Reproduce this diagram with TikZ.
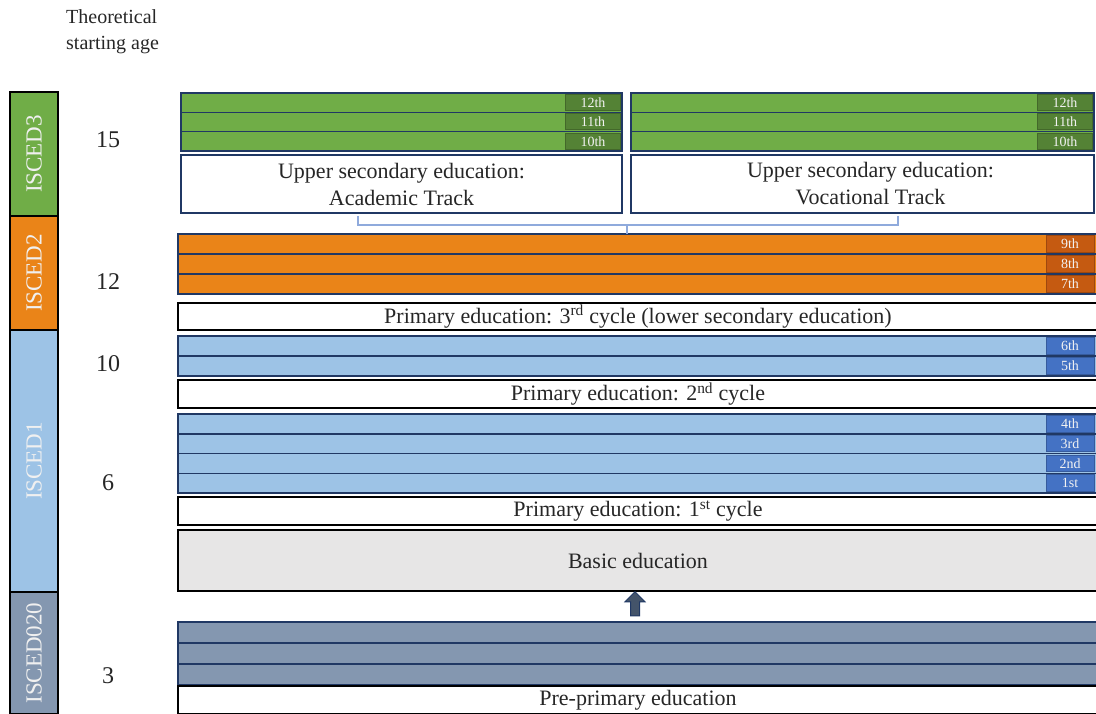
\documentclass[tikz,border=0pt]{standalone}
\usepackage{fontspec}
\setmainfont{Liberation Serif}
\usetikzlibrary{positioning,shapes.arrows}
\definecolor{navy}{HTML}{203864}
\definecolor{grn}{HTML}{70AD47}
\definecolor{dkgrn}{HTML}{548235}
\definecolor{orng}{HTML}{EA8418}
\definecolor{dkorng}{HTML}{C55A11}
\definecolor{ltblue}{HTML}{9DC3E6}
\definecolor{mdblue}{HTML}{4472C4}
\definecolor{slate}{HTML}{8497B0}
\definecolor{basicgray}{HTML}{E7E6E6}
\definecolor{bracecol}{HTML}{8FAADC}
\definecolor{arrowgray}{HTML}{44546A}
\definecolor{ink}{HTML}{262626}
\tikzset{
  basic/.style    = {rectangle, inner sep=0pt, outer sep=0pt, line width=1.5pt},
  isced/.style    = {basic, draw=black, rotate=90, minimum height=48pt,
                     text=white!94!black, font=\fontsize{23}{26}\selectfont},
  band/.style     = {basic, draw=navy, anchor=north west},
  gradetag/.style = {basic, anchor=east, line width=1pt, text=white!95!black,
                     font=\fontsize{14}{15}\selectfont},
  cyclebox/.style = {basic, draw=black, fill=white, anchor=north west, text=ink,
                     align=center, font=\fontsize{22}{27}\selectfont},
  age/.style      = {text=ink, font=\fontsize{24}{28}\selectfont}
}

\begin{document}
\begin{tikzpicture}[x=1pt,y=-1pt]
\useasboundingbox (0,0) rectangle (1096,713);

% age column
\node[anchor=north west, align=left, inner sep=0pt, text=ink,
      font=\fontsize{20}{26}\selectfont] (head) at (66,9) {Theoretical\\starting age};
\node[age] (a15) at (108,140) {15};
\node[age] (a12) at (108,282) {12};
\node[age] (a10) at (108,364) {10};
\node[age] (a6)  at (108,483) {6};
\node[age] (a3)  at (108,676) {3};

% ISCED levels
\node[isced, fill=grn,    minimum width=124pt] (l3)  at (34,154) {ISCED3};
\node[isced, fill=orng,   minimum width=114pt] (l2)  at (34,273) {ISCED2};
\node[isced, fill=ltblue, minimum width=262pt] (l1)  at (34,461) {ISCED1};
\node[isced, fill=slate,  minimum width=122pt] (l0)  at (34,653) {ISCED020};

% upper secondary, two tracks
\foreach \g [count=\i from 0] in {12th,11th,10th} {
  \node[band, fill=grn, minimum width=441pt, minimum height=19.3pt] (ac\i) at (181,{93+19.3*\i}) {};
  \node[gradetag, fill=dkgrn, draw=dkgrn!80!black, minimum width=55pt, minimum height=16pt]
    (act\i) at ([xshift=-1.5pt]ac\i.east) {\g};
  \node[band, fill=grn, minimum width=463pt, minimum height=19.3pt] (vo\i) at (631,{93+19.3*\i}) {};
  \node[gradetag, fill=dkgrn, draw=dkgrn!80!black, minimum width=55pt, minimum height=16pt]
    (vot\i) at ([xshift=-1.5pt]vo\i.east) {\g};
}
\node[cyclebox, draw=navy, minimum width=441pt, minimum height=58pt] (acad) at (181,155)
  {Upper secondary education:\\Academic Track};
\node[cyclebox, draw=navy, minimum width=463pt, minimum height=58pt] (voc) at (631,155)
  {\hspace*{16pt}Upper secondary education:\\\hspace*{16pt}Vocational Track};

% lower secondary
\foreach \g [count=\i from 0] in {9th,8th,7th} {
  \node[band, fill=orng, minimum width=922pt, minimum height=20pt] (ls\i) at (178,{234+20*\i}) {};
  \node[gradetag, fill=dkorng, draw=dkorng!80!black, minimum width=48pt, minimum height=17pt]
    (lst\i) at (1094,{244+20*\i}) {\g};
}
\coordinate (b1) at (358,216);
\coordinate (b2) at (898,216);
\coordinate (b3) at (627,225);
\draw[bracecol, line width=1.5pt] (b1) |- (b3) -| (b2);
\draw[bracecol, line width=1.5pt] (b3) -- (b3 |- ls0.north);
\node[cyclebox, minimum width=920pt, minimum height=27pt] (c3) at (178,303)
  {Primary education: 3\textsuperscript{rd} cycle (lower secondary education)};

% primary 2nd cycle
\foreach \g [count=\i from 0] in {6th,5th} {
  \node[band, fill=ltblue, minimum width=922pt, minimum height=20pt] (pb\i) at (178,{336+20*\i}) {};
  \node[gradetag, fill=mdblue, draw=mdblue!80!black, minimum width=48pt, minimum height=17pt]
    (pbt\i) at (1094,{346+20*\i}) {\g};
}
\node[cyclebox, minimum width=920pt, minimum height=28pt] (c2) at (178,380)
  {Primary education: 2\textsuperscript{nd} cycle};

% primary 1st cycle
\foreach \g [count=\i from 0] in {4th,3rd,2nd,1st} {
  \node[band, fill=ltblue, minimum width=922pt, minimum height=19.75pt] (pa\i) at (178,{414+19.75*\i}) {};
  \node[gradetag, fill=mdblue, draw=mdblue!80!black, minimum width=48pt, minimum height=16.5pt]
    (pat\i) at (1094,{423.9+19.75*\i}) {\g};
}
\node[cyclebox, minimum width=920pt, minimum height=28pt] (c1) at (178,497)
  {Primary education: 1\textsuperscript{st} cycle};
\node[cyclebox, fill=basicgray, minimum width=920pt, minimum height=61pt] (basic) at (178,530)
  {Basic education};

% pre-primary
\foreach \i in {0,1,2} {
  \node[band, fill=slate, minimum width=922pt, minimum height=21pt] (pp\i) at (178,{622+21*\i}) {};
}
\node[cyclebox, minimum width=920pt, minimum height=28pt] (c0) at (178,686)
  {Pre-primary education};
\node[single arrow, shape border rotate=90, fill=arrowgray, draw=navy, line width=1pt,
      inner sep=4pt, outer sep=0pt, minimum height=24pt,
      single arrow head extend=5.5pt, single arrow head indent=0pt] (up) at (635,606) {};

\end{tikzpicture}
\end{document}
